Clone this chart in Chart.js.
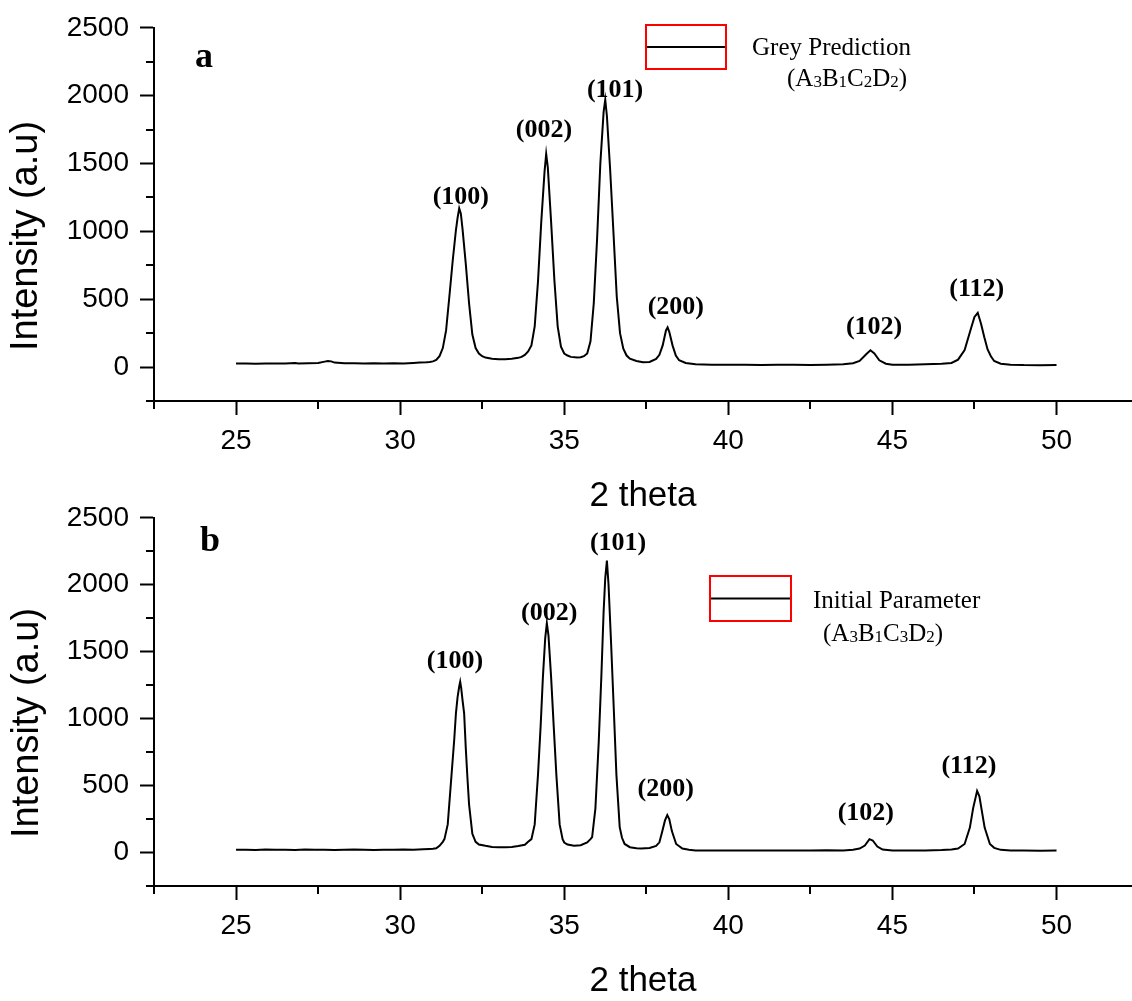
<!DOCTYPE html>
<html>
<head>
<meta charset="utf-8">
<script src="https://cdn.jsdelivr.net/npm/chart.js@4.4.1/dist/chart.umd.min.js"></script>
<style>
  html, body { margin: 0; padding: 0; background: #fff; overflow: hidden; }
  #wrap { position: relative; width: 1132px; height: 1001px; }
  canvas { position: absolute; left: 0; }
  #cA { top: 0; }
  #cB { top: 490px; }
</style>
</head>
<body>
<div id="wrap">
  <canvas id="cA" width="1132" height="520"></canvas>
  <canvas id="cB" width="1132" height="511"></canvas>
</div>
<script>
// ---------------- DATA ----------------
// Panel a: Grey Prediction (A3B1C2D2)
const thetaA = [25.0,25.3,25.6,25.9,26.2,26.5,26.8,26.9,27.2,27.5,27.7,27.8,27.9,28.0,28.3,28.6,28.9,29.2,29.5,29.8,30.1,30.4,30.6,30.8,30.9,31.0,31.1,31.2,31.3,31.4,31.5,31.6,31.7,31.75,31.8,31.85,31.9,32.0,32.1,32.2,32.3,32.4,32.5,32.6,32.8,33.0,33.2,33.4,33.6,33.7,33.8,33.9,34.0,34.1,34.2,34.3,34.4,34.45,34.5,34.6,34.7,34.8,34.9,35.0,35.1,35.2,35.4,35.5,35.6,35.7,35.8,35.9,36.0,36.1,36.2,36.25,36.3,36.4,36.5,36.6,36.7,36.8,36.9,37.0,37.2,37.4,37.6,37.8,37.9,38.0,38.1,38.15,38.2,38.3,38.4,38.5,38.7,39.0,39.5,40.0,40.5,41.0,41.5,42.0,42.5,43.0,43.5,43.8,44.0,44.2,44.33,44.45,44.6,44.8,45.0,45.5,46.0,46.5,46.8,47.0,47.2,47.4,47.5,47.6,47.7,47.8,47.9,48.0,48.1,48.3,48.6,49.0,49.5,50.0];
const intensityA = [26,27,25,26,27,26,30,27,28,30,40,45,42,33,29,28,27,29,26,28,27,30,33,35,38,42,52,80,140,270,520,780,1010,1100,1170,1130,1020,760,470,240,140,100,80,70,62,58,58,62,68,75,90,115,160,300,630,1070,1440,1570,1470,1070,640,300,150,100,85,75,70,72,80,100,190,470,940,1500,1880,1970,1850,1450,990,520,250,135,85,62,45,35,38,60,90,160,270,292,260,160,85,50,30,20,18,17,18,16,17,18,16,17,20,28,45,95,124,100,50,25,18,17,20,24,30,55,125,290,370,400,320,220,130,80,45,25,18,15,14,15];

// Panel b: Initial Parameter (A3B1C3D2)
const thetaB = [25.0,25.3,25.6,25.9,26.2,26.5,26.8,27.1,27.4,27.7,28.0,28.3,28.6,28.9,29.2,29.5,29.8,30.1,30.4,30.7,30.9,31.0,31.1,31.2,31.3,31.35,31.45,31.55,31.65,31.7,31.75,31.8,31.83,31.86,31.9,31.95,32.0,32.05,32.1,32.2,32.3,32.4,32.6,32.8,33.0,33.2,33.4,33.6,33.8,33.9,34.0,34.1,34.2,34.28,34.35,34.42,34.47,34.52,34.6,34.68,34.76,34.86,34.95,35.0,35.1,35.3,35.5,35.7,35.8,35.85,35.95,36.05,36.13,36.2,36.25,36.3,36.35,36.43,36.51,36.59,36.69,36.76,36.84,37.0,37.2,37.35,37.6,37.8,37.9,37.99,38.07,38.14,38.2,38.28,38.41,38.6,38.8,39.0,39.5,40.0,40.5,41.0,41.5,42.0,42.5,43.0,43.5,43.8,44.0,44.16,44.3,44.4,44.54,44.7,45.0,45.5,46.0,46.5,46.8,47.0,47.2,47.36,47.46,47.58,47.65,47.71,47.81,47.97,48.1,48.3,48.6,49.0,49.5,50.0];
const intensityB = [20,21,19,22,20,21,19,22,20,21,19,20,22,20,19,21,20,22,21,24,27,28,32,50,80,100,210,530,850,1040,1160,1240,1275,1230,1140,1040,780,560,360,140,80,60,50,42,40,40,42,48,58,80,100,210,580,940,1310,1600,1713,1620,1310,940,580,210,100,75,60,51,55,75,100,115,330,820,1310,1800,2050,2180,2000,1550,1070,580,190,110,64,40,32,30,34,50,76,160,240,280,250,160,64,30,20,16,15,16,15,16,15,16,15,17,16,20,30,52,100,90,45,22,16,15,16,18,22,30,64,186,332,460,420,332,186,64,35,20,16,15,14,15];

// Peak (hkl) labels and where they sit, in data units
const peakLabels = ['(100)','(002)','(101)','(200)','(102)','(112)'];
const peakLabelThetaA = [31.85,34.38,36.55,38.40,44.44,47.57];
const peakLabelIntensityA = [1254,1742,2041,440,294,576];
const peakLabelThetaB = [31.67,34.54,36.64,38.09,44.19,47.33];
const peakLabelIntensityB = [1426,1789,2309,469,295,645];

// Axes ticks
const xTickValues = [22.5,25,27.5,30,32.5,35,37.5,40,42.5,45,47.5,50];
const xMajorStep = 5;
const yTickValues = [-250,0,250,500,750,1000,1250,1500,1750,2000,2250,2500];
const yMajorStep = 500;

// ---------------- CHARTS ----------------
const SANS = '"Liberation Sans", Arial, sans-serif';
const SERIF = '"Liberation Serif", "Times New Roman", serif';

const overlayPlugin = {
  id: 'overlay',
  afterDraw(chart, args, o) {
    const { ctx, chartArea } = chart;
    const xs = chart.scales.x, ys = chart.scales.y;
    ctx.save();
    // minor ticks
    ctx.strokeStyle = '#000';
    ctx.lineWidth = 2;
    xTickValues.filter(v => v % xMajorStep !== 0).forEach(v => {
      const px = Math.round(xs.getPixelForValue(v));
      ctx.beginPath(); ctx.moveTo(px, chartArea.bottom); ctx.lineTo(px, chartArea.bottom + 8); ctx.stroke();
    });
    yTickValues.filter(v => v % yMajorStep !== 0).forEach(v => {
      const py = Math.round(ys.getPixelForValue(v));
      ctx.beginPath(); ctx.moveTo(chartArea.left - 8, py); ctx.lineTo(chartArea.left, py); ctx.stroke();
    });
    ctx.fillStyle = '#000';
    ctx.textAlign = 'center';
    ctx.textBaseline = 'middle';
    // peak labels
    ctx.font = 'bold 26px ' + SERIF;
    o.labels.forEach((t, i) => {
      ctx.fillText(t, xs.getPixelForValue(o.thetas[i]), ys.getPixelForValue(o.ints[i]));
    });
    // panel letter
    ctx.font = 'bold 36px ' + SERIF;
    ctx.fillText(o.panel, o.panelPos[0], o.panelPos[1]);
    // axis titles
    ctx.font = '35px ' + SANS;
    ctx.fillText('2 theta', (chartArea.left + chartArea.right) / 2, chartArea.bottom + 95);
    ctx.save();
    ctx.translate(o.yTitlePos[0], o.yTitlePos[1]);
    ctx.rotate(-Math.PI / 2);
    ctx.font = '38px ' + SANS;
    ctx.fillText('Intensity (a.u)', 0, 0);
    ctx.restore();
    // legend
    const L = o.legend;
    ctx.strokeStyle = '#ff0000';
    ctx.lineWidth = 2;
    ctx.strokeRect(L.box[0], L.box[1], L.box[2], L.box[3]);
    ctx.strokeStyle = '#000';
    ctx.lineWidth = 2;
    const ly = L.box[1] + L.box[3] / 2;
    ctx.beginPath(); ctx.moveTo(L.box[0] + 1, ly); ctx.lineTo(L.box[0] + L.box[2] - 1, ly); ctx.stroke();
    ctx.textAlign = 'left';
    ctx.textBaseline = 'alphabetic';
    ctx.font = '25px ' + SERIF;
    ctx.fillText(L.title, L.t1[0], L.t1[1]);
    // second line with small digits
    let cx = L.t2[0];
    L.formula.forEach(seg => {
      const small = /^[0-9]$/.test(seg);
      ctx.font = (small ? '17px ' : '25px ') + SERIF;
      ctx.fillText(seg, cx, L.t2[1] + (small ? 1 : 0));
      cx += ctx.measureText(seg).width;
    });
    ctx.restore();
  }
};

function makeChart(id, thetas, ints, padTop, xHeight, overlay) {
  const pts = thetas.map((t, i) => ({ x: t, y: ints[i] }));
  return new Chart(document.getElementById(id), {
    type: 'line',
    data: {
      datasets: [{
        data: pts,
        borderColor: '#000',
        borderWidth: 2,
        pointRadius: 0,
        tension: 0,
        fill: false
      }]
    },
    options: {
      responsive: false,
      animation: false,
      events: [],
      layout: { padding: { top: padTop, left: 0, right: 0, bottom: 0 } },
      plugins: { legend: { display: false }, tooltip: { enabled: false }, overlay },
      scales: {
        x: {
          type: 'linear',
          min: 22.5,
          max: 52.3,
          afterBuildTicks: s => { s.ticks = xTickValues.map(v => ({ value: v })); },
          afterFit: s => { s.height = xHeight; },
          border: { display: true, color: '#000', width: 2 },
          grid: {
            drawOnChartArea: false,
            drawTicks: true,
            tickLength: 14,
            tickWidth: 2,
            tickColor: c => (c.tick && c.tick.value % xMajorStep === 0) ? '#000' : 'rgba(0,0,0,0)'
          },
          ticks: {
            autoSkip: false,
            maxRotation: 0,
            padding: 9,
            color: '#000',
            font: { family: SANS, size: 28 },
            callback: v => (v % xMajorStep === 0 ? String(v) : '')
          }
        },
        y: {
          type: 'linear',
          min: -250,
          max: 2500,
          afterBuildTicks: s => { s.ticks = yTickValues.map(v => ({ value: v })); },
          afterFit: s => { s.width = 154; },
          border: { display: true, color: '#000', width: 2 },
          grid: {
            drawOnChartArea: false,
            drawTicks: true,
            tickLength: 14,
            tickWidth: 2,
            tickColor: c => (c.tick && c.tick.value % yMajorStep === 0) ? '#000' : 'rgba(0,0,0,0)'
          },
          ticks: {
            autoSkip: false,
            padding: 11,
            color: '#000',
            font: { family: SANS, size: 28 },
            callback: v => (v % yMajorStep === 0 ? String(v) : '')
          }
        }
      }
    },
    plugins: [overlayPlugin]
  });
}

makeChart('cA', thetaA, intensityA, 24, 119, {
  labels: peakLabels, thetas: peakLabelThetaA, ints: peakLabelIntensityA,
  panel: 'a', panelPos: [204, 58], yTitlePos: [27, 236],
  legend: { box: [646, 25, 80, 44], title: 'Grey Prediction', t1: [752, 55],
            formula: ['(A','3','B','1','C','2','D','2',')'], t2: [787, 86] }
});
makeChart('cB', thetaB, intensityB, 21, 115, {
  labels: peakLabels, thetas: peakLabelThetaB, ints: peakLabelIntensityB,
  panel: 'b', panelPos: [210, 52], yTitlePos: [28, 233],
  legend: { box: [710, 86, 81, 45], title: 'Initial Parameter', t1: [813, 118],
            formula: ['(A','3','B','1','C','3','D','2',')'], t2: [823, 151] }
});
</script>
</body>
</html>
